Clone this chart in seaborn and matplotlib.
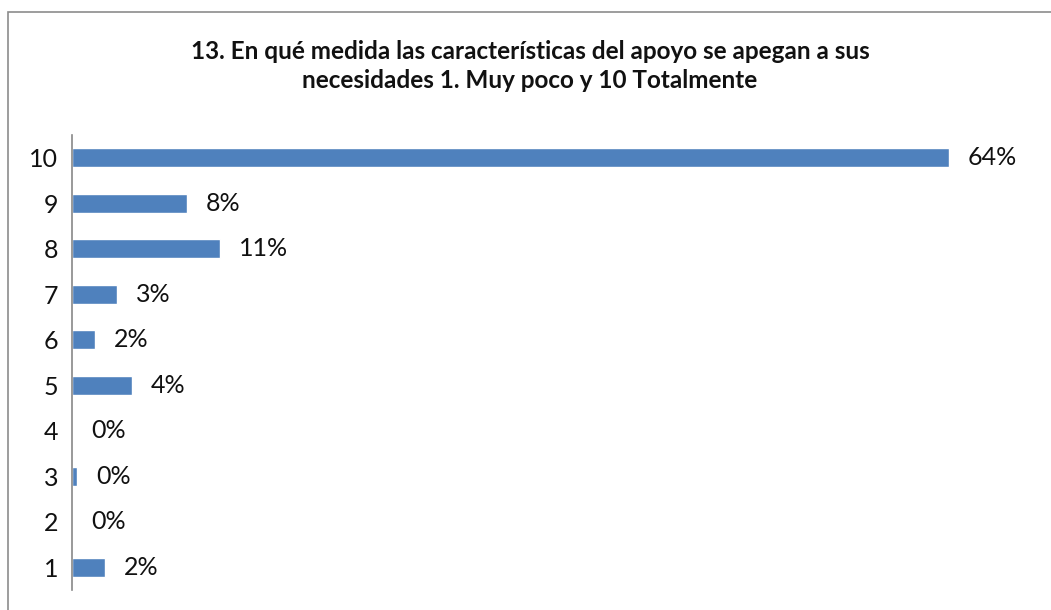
import matplotlib
matplotlib.use("Agg")
import matplotlib.pyplot as plt
import matplotlib.patches as mpatches
import seaborn as sns
import pandas as pd

# data (percent of answers)
categories = ["10", "9", "8", "7", "6", "5", "4", "3", "2", "1"]
values = [64.0, 8.4, 10.8, 3.3, 1.7, 4.4, 0.0, 0.4, 0.0, 2.4]
title = ("13. En qué medida las características del apoyo se apegan a sus\n"
         "necesidades 1. Muy poco y 10 Totalmente")

sns.set_style("white")
plt.rcParams['font.family'] = ['Lato', 'DejaVu Sans']

df = pd.DataFrame({"cat": categories, "pct": values})

fig = plt.figure(figsize=(10.51, 6.10), dpi=100)
ax = fig.add_axes([72 / 1051, 1 - 590 / 610, 959 / 1051, (590 - 135) / 610])

sns.barplot(data=df, y="cat", x="pct", order=categories, orient="h",
            color="#4F81BD", saturation=1, width=0.42, ax=ax)

ax.set_xlim(0, 70)
ax.set_ylim(9.5, -0.5)
ax.set_xlabel("")
ax.set_ylabel("")
ax.set_xticks([])
ax.tick_params(axis="y", length=0, pad=10, labelsize=18, labelcolor="#111111")
for s in ["top", "right", "bottom"]:
    ax.spines[s].set_visible(False)
ax.spines["left"].set_color("#888888")
ax.spines["left"].set_linewidth(1.2)

# value labels
for i, v in enumerate(values):
    ax.annotate(f"{round(v):.0f}%", xy=(v, i), xytext=(13.5, 0),
                textcoords="offset points", va="center", ha="left",
                fontsize=18, color="#111111", annotation_clip=False)

fig.text(530 / 1051, 1 - 66 / 610, title, ha="center", va="center",
         fontsize=17.5, fontweight="bold", linespacing=1.3, color="#111111")

# outer chart frame
fig.patches.append(mpatches.Rectangle((8 / 1051, -0.01), 1.1, 1 - 12 / 610 + 0.01,
                                      transform=fig.transFigure, fill=False,
                                      edgecolor="#8c8c8c", linewidth=1.2))

fig.savefig("out.png", dpi=100)
